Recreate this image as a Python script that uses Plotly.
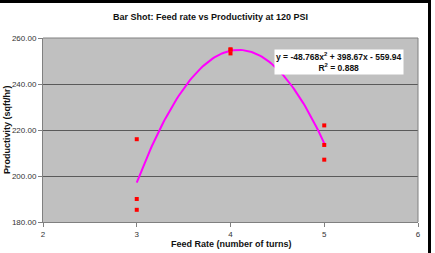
import numpy as np
import plotly.graph_objects as go

# Data
feed_rate = [3, 3, 3, 4, 4, 4, 5, 5, 5]
productivity = [216.0, 190.0, 185.3, 255.0, 255.0, 253.3, 222.0, 213.5, 207.1]

# Trendline coefficients shown in the label (y = a x^2 + b x + c)
coef_a, coef_b, coef_c = -48.768, 398.67, -559.94
r_squared = 0.888

title_text = "Bar Shot: Feed rate vs Productivity at 120 PSI"
x_title = "Feed Rate (number of turns)"
y_title = "Productivity (sqft/hr)"

x_fit = np.linspace(min(feed_rate), max(feed_rate), 100)
y_fit = coef_a * x_fit**2 + coef_b * x_fit + coef_c

FONT = "Liberation Sans, Arial, sans-serif"
L, R, T, B = 43, 17, 38, 31
PW, PH = 435 - L - R, 253 - T - B

def px_x(px):
    return (px - L) / PW

def px_y(py):
    return (253 - B - py) / PH

fig = go.Figure()
fig.add_trace(go.Scatter(x=x_fit, y=y_fit, mode="lines",
                         line=dict(color="#FF00FF", width=2), showlegend=False,
                         hoverinfo="skip"))
fig.add_trace(go.Scatter(x=feed_rate, y=productivity, mode="markers",
                         marker=dict(symbol="square", size=4, color="#FF0000"),
                         showlegend=False))

fig.update_layout(
    width=435, height=253,
    margin=dict(l=L, r=R, t=T, b=B),
    paper_bgcolor="white",
    plot_bgcolor="#C0C0C0",
    font=dict(family=FONT, size=8, color="#333333"),
    showlegend=False,
    xaxis=dict(range=[2, 6], dtick=1, showgrid=False, zeroline=False,
               showline=True, linecolor="#808080", linewidth=1,
               ticks="outside", ticklen=4, tickcolor="#808080",
               tickfont=dict(size=8, color="#333333"),
               automargin=False),
    yaxis=dict(range=[180, 260], dtick=20, tickformat=".2f",
               showgrid=True, gridcolor="#5A5A5A", gridwidth=1, zeroline=False,
               showline=True, linecolor="#808080", linewidth=1,
               ticks="outside", ticklen=4, tickcolor="#808080",
               tickfont=dict(size=8, color="#333333"),
               automargin=False),
    shapes=[
        # plot area border (top and right)
        dict(type="line", xref="paper", yref="paper", x0=0, x1=1, y0=1, y1=1,
             line=dict(color="#808080", width=1)),
        dict(type="line", xref="paper", yref="paper", x0=1, x1=1, y0=0, y1=1,
             line=dict(color="#808080", width=1)),
        # chart outer black border (top and right)
        dict(type="line", xref="paper", yref="paper",
             x0=px_x(0), x1=px_x(431), y0=px_y(1.5), y1=px_y(1.5),
             line=dict(color="black", width=3)),
        dict(type="line", xref="paper", yref="paper",
             x0=px_x(429.5), x1=px_x(429.5), y0=px_y(253), y1=px_y(0),
             line=dict(color="black", width=3)),
    ],
    annotations=[
        dict(x=px_x(210), y=px_y(17), xref="paper", yref="paper", showarrow=False,
             text="<b>" + title_text + "</b>", xanchor="center", yanchor="middle",
             font=dict(size=9, color="#111111", family=FONT)),
        dict(x=px_x(231), y=px_y(244), xref="paper", yref="paper", showarrow=False,
             text="<b>" + x_title + "</b>", xanchor="center", yanchor="middle",
             font=dict(size=9, color="#111111", family=FONT)),
        dict(x=px_x(7), y=px_y(130), xref="paper", yref="paper", showarrow=False,
             text="<b>" + y_title + "</b>", textangle=-90,
             xanchor="center", yanchor="middle",
             font=dict(size=9, color="#111111", family=FONT)),
        dict(x=5.16, y=249.7, xref="x", yref="y", showarrow=False,
             text="<b>y = -48.768x<sup>2</sup> + 398.67x - 559.94<br>R<sup>2</sup> = "
                  + f"{r_squared:.3f}" + "</b>",
             align="center", bgcolor="white", borderpad=1,
             font=dict(size=8.5, color="#111111", family=FONT)),
    ],
)

fig.write_html("out.html")
